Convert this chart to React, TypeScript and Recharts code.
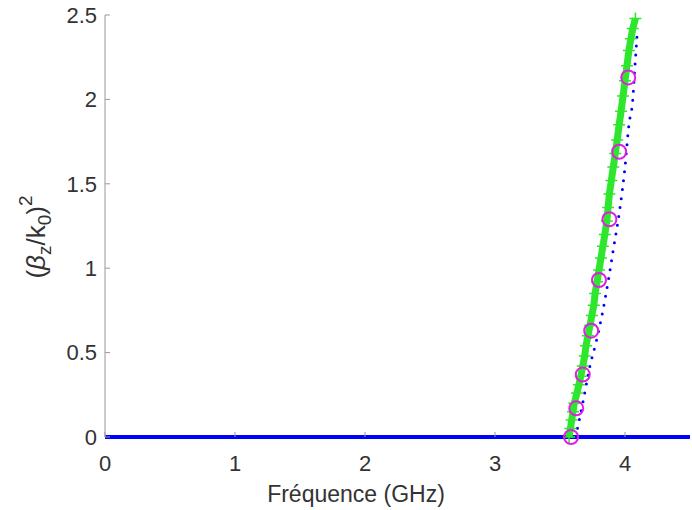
import React from 'react';
import { ComposedChart, Line, XAxis, YAxis, Label } from 'recharts';

// flat branch along the axis
const baseFreq = [0, 4.5];
const baseVal = [0, 0];

// blue dotted branch
const dotFreq = [3.62, 3.68, 3.73, 3.78, 3.82, 3.87, 3.91, 3.96, 4.0, 4.03, 4.06, 4.075, 4.093];
const dotVal = [0, 0.22, 0.42, 0.57, 0.71, 0.92, 1.11, 1.35, 1.6, 1.85, 2.0, 2.18, 2.38];

// green "+" branch
const greenFreq = [
    3.57, 3.58, 3.59, 3.6, 3.61, 3.63, 3.645, 3.66, 3.675, 3.69, 3.7, 3.715,
    3.73, 3.745, 3.76, 3.77, 3.785, 3.8, 3.815, 3.83, 3.845, 3.86, 3.87, 3.88,
    3.895, 3.91, 3.925, 3.94, 3.955, 3.97, 3.985, 4.0, 4.015, 4.03, 4.045, 4.06, 4.08,
];
const greenVal = [
    0, 0.05, 0.1, 0.15, 0.2, 0.26, 0.31, 0.36, 0.42, 0.48, 0.54, 0.6,
    0.66, 0.72, 0.78, 0.85, 0.92, 0.99, 1.06, 1.13, 1.2, 1.28, 1.36, 1.44,
    1.52, 1.6, 1.68, 1.76, 1.85, 1.93, 2.02, 2.11, 2.2, 2.29, 2.36, 2.42, 2.48,
];

// magenta circles
const circFreq = [3.585, 3.625, 3.675, 3.74, 3.8, 3.88, 3.955, 4.025];
const circVal = [0, 0.17, 0.37, 0.63, 0.93, 1.29, 1.69, 2.13];

const xTicks = [0, 1, 2, 3, 4];
const yTicks = [0, 0.5, 1, 1.5, 2, 2.5];

const zip = (fs: number[], vs: number[]) => fs.map((f, i) => ({ f, v: vs[i] }));

const baseData = zip(baseFreq, baseVal);
const dotData = zip(dotFreq, dotVal);
const greenData = zip(greenFreq, greenVal);
const circData = zip(circFreq, circVal);

const FONT = '"Liberation Sans", Arial, sans-serif';
const TEXT = '#333333';
const GREEN = '#2ee62e';

const PlusDot = (props: any) => {
    const { cx, cy, index } = props;
    if (cx == null || cy == null) return <g key={`p-${index}`} />;
    return (
        <path
            key={`p-${index}`}
            d={`M${cx - 6},${cy}h12M${cx},${cy - 6}v12`}
            stroke={GREEN}
            strokeWidth={1.5}
            fill="none"
        />
    );
};

const CircleDot = (props: any) => {
    const { cx, cy, index } = props;
    if (cx == null || cy == null) return <g key={`c-${index}`} />;
    return <circle key={`c-${index}`} cx={cx} cy={cy} r={7} stroke="#e020e0" strokeWidth={2} fill="none" />;
};

const YTitle = () => (
    <text transform="translate(45,237) rotate(-90)" textAnchor="middle" fontSize={26} fill={TEXT} fontFamily={FONT}>
        <tspan>(</tspan>
        <tspan fontStyle="italic">β</tspan>
        <tspan fontSize={19} dy={6}>z</tspan>
        <tspan dy={-6}>/k</tspan>
        <tspan fontSize={19} dy={6}>0</tspan>
        <tspan dy={-6}>)</tspan>
        <tspan fontSize={19} dy={-13}>2</tspan>
    </text>
);

const XTitle = () => (
    <text x={356} y={502} textAnchor="middle" fontSize={23} fill={TEXT} fontFamily={FONT}>
        Fréquence (GHz)
    </text>
);

export default function App() {
    return (
        <div style={{ position: 'absolute', left: 0, top: 0, width: 692, height: 510, background: '#fff' }}>
            <ComposedChart width={692} height={510} margin={{ top: 15, right: 2, bottom: 43, left: 0 }}>
                <XAxis
                    dataKey="f"
                    type="number"
                    domain={[0, 4.5]}
                    ticks={xTicks}
                    height={30}
                    stroke="#999999"
                    axisLine={false}
                    tickSize={-5}
                    tickMargin={23}
                    tick={{ fill: TEXT, fontSize: 22, fontFamily: FONT }}
                >
                    <Label content={XTitle} />
                </XAxis>
                <YAxis
                    dataKey="v"
                    type="number"
                    domain={[0, 2.5]}
                    ticks={yTicks}
                    width={105}
                    stroke="#999999"
                    tickSize={-5}
                    tickMargin={13}
                    tick={{ fill: TEXT, fontSize: 22, fontFamily: FONT }}
                >
                    <Label content={YTitle} />
                </YAxis>
                <Line
                    data={baseData}
                    dataKey="v"
                    stroke="#0000ff"
                    strokeWidth={4}
                    dot={false}
                    isAnimationActive={false}
                />
                <Line
                    data={dotData}
                    dataKey="v"
                    type="monotone"
                    stroke="#0000ff"
                    strokeWidth={3}
                    strokeDasharray="0 9"
                    strokeLinecap="round"
                    dot={false}
                    isAnimationActive={false}
                />
                <Line
                    data={greenData}
                    dataKey="v"
                    stroke={GREEN}
                    strokeWidth={7}
                    dot={PlusDot}
                    isAnimationActive={false}
                />
                <Line
                    data={circData}
                    dataKey="v"
                    stroke="none"
                    dot={CircleDot}
                    isAnimationActive={false}
                />
            </ComposedChart>
        </div>
    );
}
